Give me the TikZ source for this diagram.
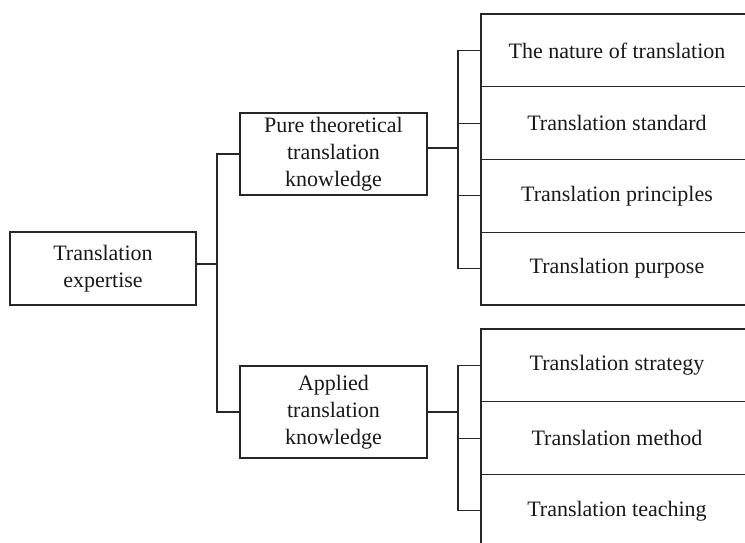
\documentclass[tikz,border=0pt]{standalone}
\usepackage{fontspec}
\setmainfont{Liberation Serif}
\begin{document}
\begin{tikzpicture}[x=1pt,y=-1pt,
  box/.style={draw=black!85, line width=1.1pt, rectangle, inner sep=0pt, align=center,
    font=\fontsize{22}{27}\selectfont, text=black!90},
  conn/.style={draw=black!85, line width=1.1pt}]
\useasboundingbox (0,0) rectangle (745,542);
\clip (0,0) rectangle (745,542);
\fill[white] (0,0) rectangle (745,542);
% main nodes
\node[box, minimum width=186pt, minimum height=73pt] (root) at (103,268.5) {Translation\\expertise};
\node[box, minimum width=187pt, minimum height=82pt] (m1) at (333.5,154) {Pure theoretical\\translation\\knowledge};
\node[box, minimum width=187pt, minimum height=92pt] (m2) at (333.5,412) {Applied\\translation\\knowledge};
% right boxes (top group)
\node[box, minimum width=272pt, minimum height=72.75pt] (r1) at (617,50.4) {The nature of translation};
\node[box, minimum width=272pt, minimum height=72.75pt] (r2) at (617,123.1) {Translation standard};
\node[box, minimum width=272pt, minimum height=72.75pt] (r3) at (617,195.9) {Translation principles};
\node[box, minimum width=272pt, minimum height=72.75pt] (r4) at (617,268.6) {Translation purpose};
% right boxes (bottom group)
\node[box, minimum width=272pt, minimum height=72.75pt] (s1) at (617,365.4) {Translation strategy};
\node[box, minimum width=272pt, minimum height=72.75pt] (s2) at (617,438.1) {Translation method};
\node[box, minimum width=272pt, minimum height=72.75pt] (s3) at (617,510.9) {Translation teaching};
% junctions
\coordinate (j1) at (217,264);
\coordinate (j2) at (458,148);
\coordinate (j3) at (458,412);
% connectors root -> middle
\draw[conn] ([yshift=4.5pt]root.east) -- (j1);
\draw[conn] (m1.west) -- (m1.west -| j1) -- (m2.west -| j1) -- (m2.west);
% connectors top group
\draw[conn] ([yshift=6pt]m1.east) -- (j2);
\draw[conn] (r1.west) -- (r1.west -| j2) -- (r4.west -| j2) -- (r4.west);
\draw[conn] (r2.west -| j2) -- (r2.west);
\draw[conn] (r3.west -| j2) -- (r3.west);
% connectors bottom group
\draw[conn] (m2.east) -- (j3);
\draw[conn] (s1.west) -- (s1.west -| j3) -- (s3.west -| j3) -- (s3.west);
\draw[conn] (s2.west -| j3) -- (s2.west);
\end{tikzpicture}
\end{document}
